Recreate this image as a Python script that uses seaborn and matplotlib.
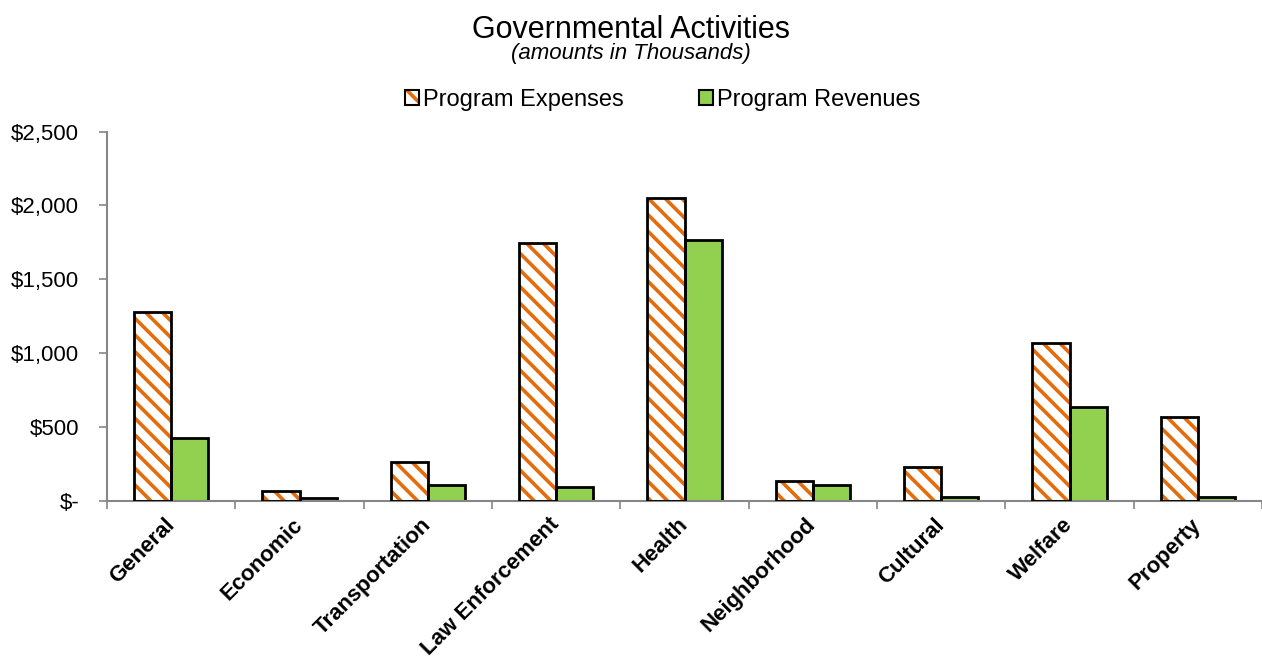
import numpy as np
import pandas as pd
import matplotlib
matplotlib.use('Agg')
import matplotlib.pyplot as plt
import matplotlib.colors as mcolors
from matplotlib.patches import Patch, Rectangle
from matplotlib.ticker import FuncFormatter
import seaborn as sns

# dữ liệu (nghìn đô)
categories = ['General', 'Economic', 'Transportation', 'Law Enforcement', 'Health',
              'Neighborhood', 'Cultural', 'Welfare', 'Property']
expenses = [1277, 68, 264, 1746, 2050, 135, 230, 1070, 568]
revenues = [422, 15, 106, 95, 1768, 106, 25, 635, 25]
series_names = ['Program Expenses', 'Program Revenues']

df = pd.DataFrame({
    'Category': categories * 2,
    'Amount': expenses + revenues,
    'Series': [series_names[0]] * len(categories) + [series_names[1]] * len(categories),
})

ORANGE = '#E46C0A'
GREEN = '#92D050'
AXIS_GRAY = '#868686'

sns.set_style('white')
plt.rcParams['font.family'] = ['Liberation Sans', 'DejaVu Sans']
plt.rcParams['text.color'] = 'black'
plt.rcParams['xtick.color'] = 'black'
plt.rcParams['ytick.color'] = 'black'
plt.rcParams['hatch.linewidth'] = 2.6

fig = plt.figure(figsize=(12.62, 6.63), dpi=100, facecolor='white')
ax = fig.add_axes([0.0848, 0.2448, 0.9152, 0.5566])

sns.barplot(data=df, x='Category', y='Amount', hue='Series', order=categories,
            hue_order=series_names,
            palette={series_names[0]: 'white', series_names[1]: GREEN},
            saturation=1, width=0.58, gap=0, edgecolor='black', linewidth=2,
            legend=False, ax=ax)

# sọc cam cho cột chi phí + viền đen vẽ lại
for p in ax.containers[0]:
    p.set_hatch('\\\\')
    p._hatch_color = mcolors.to_rgba(ORANGE)
    p.set_linewidth(0)
    ax.add_patch(Rectangle(p.get_xy(), p.get_width(), p.get_height(),
                           fill=False, edgecolor='black', linewidth=2, zorder=3))

ax.set_xlim(-0.5, 8.42)
ax.set_ylim(0, 2500)
ax.set_yticks(np.arange(0, 2501, 500))
ax.yaxis.set_major_formatter(FuncFormatter(lambda v, _: '$-' if v == 0 else f'${v:,.0f}'))
ax.set_xlabel('')
ax.set_ylabel('')

for s in ['top', 'right']:
    ax.spines[s].set_visible(False)
for s in ['left', 'bottom']:
    ax.spines[s].set_color(AXIS_GRAY)
    ax.spines[s].set_linewidth(1.5)

ax.tick_params(axis='y', which='major', left=True, length=6, width=1.2,
               color=AXIS_GRAY, labelcolor='black', labelsize=16, pad=14)
ax.set_xticks(np.arange(-0.5, 9, 1), minor=True)
ax.tick_params(axis='x', which='minor', bottom=True, length=6, width=1.2, color=AXIS_GRAY)
ax.tick_params(axis='x', which='major', length=0, pad=15, labelcolor='black')
ax.set_xticks(range(len(categories)))
ax.set_xticklabels(categories, rotation=45, ha='right', va='center',
                   rotation_mode='anchor', fontsize=16, fontweight='bold')

fig.text(0.5, 0.955, 'Governmental Activities', ha='center', va='center', fontsize=22)
fig.text(0.5, 0.920, '(amounts in Thousands)', ha='center', va='center',
         fontsize=16, style='italic')

h_exp = Patch(facecolor='white', edgecolor='black', linewidth=1.5, hatch='\\\\')
h_exp._hatch_color = mcolors.to_rgba(ORANGE)
h_rev = Patch(facecolor=GREEN, edgecolor='black', linewidth=1.5)
fig.legend([h_exp, h_rev], series_names, loc='center', bbox_to_anchor=(0.525, 0.849),
           ncol=2, frameon=False, fontsize=17, handlelength=0.6, handleheight=0.6,
           handletextpad=0.15, columnspacing=3.2)

plt.savefig('out.png', dpi=100, facecolor='white')
